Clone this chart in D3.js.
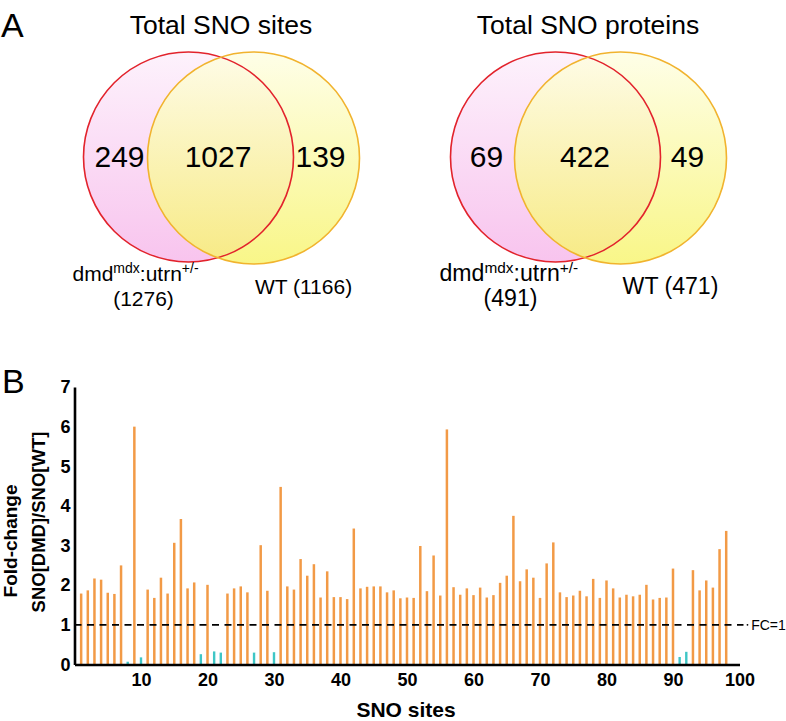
<!DOCTYPE html>
<html>
<head>
<meta charset="utf-8">
<script src="https://cdn.jsdelivr.net/npm/d3@7"></script>
<style>
  html, body { margin: 0; padding: 0; background: #fff; }
  svg { display: block; font-family: "Liberation Sans", Arial, sans-serif; }
</style>
</head>
<body>
<svg id="chart" width="786" height="721"></svg>
<script>
// ---------------- DATA ----------------
const vennSitesTitle = "Total SNO sites";
const vennSitesCounts = [249, 1027, 139];          // only DMD, both, only WT
const vennSitesTotals = ["(1276)", "WT (1166)"];

const vennProtTitle = "Total SNO proteins";
const vennProtCounts = [69, 422, 49];
const vennProtTotals = ["(491)", "WT (471)"];

// Fold change per SNO site (sites 1..98)
const foldChange = [
  1.79, 1.87, 2.17, 2.14, 1.81, 1.78, 2.50, 0.07, 6.00, 0.18,
  1.89, 1.68, 2.19, 1.79, 3.07, 3.67, 1.92, 2.07, 0.26, 2.01,
  0.33, 0.30, 1.79, 1.92, 1.97, 1.82, 0.30, 3.01, 1.86, 0.31,
  4.48, 1.97, 1.89, 2.66, 2.24, 2.53, 1.69, 2.35, 1.70, 1.70,
  1.65, 3.43, 1.92, 1.96, 1.97, 1.97, 1.82, 1.87, 1.67, 1.69,
  1.68, 2.99, 1.85, 2.75, 1.74, 5.93, 1.95, 1.76, 1.92, 1.75,
  1.94, 1.69, 1.75, 2.06, 2.24, 3.75, 2.10, 2.40, 2.19, 1.68,
  2.55, 3.08, 1.82, 1.70, 1.74, 1.86, 1.72, 2.16, 1.68, 2.12,
  1.92, 1.69, 1.76, 1.72, 1.76, 2.01, 1.64, 1.68, 1.69, 2.42,
  0.19, 0.32, 2.38, 1.87, 2.12, 1.94, 2.91, 3.37
];
const xTicks = [10, 20, 30, 40, 50, 60, 70, 80, 90, 100];
const yTicks = [0, 1, 2, 3, 4, 5, 6, 7];
const fcThreshold = 1;

// ---------------- DRAW ----------------
const svg = d3.select("#chart");
const FONT = "'Liberation Sans', Arial, sans-serif";

// gradients
const defs = svg.append("defs");
const gPink = defs.append("linearGradient").attr("id", "gPink").attr("x1", 0).attr("y1", 0).attr("x2", 0).attr("y2", 1);
gPink.append("stop").attr("offset", "0%").attr("stop-color", "#fdf2fc");
gPink.append("stop").attr("offset", "100%").attr("stop-color", "#f8c4ee");
const gYel = defs.append("linearGradient").attr("id", "gYel").attr("x1", 0).attr("y1", 0).attr("x2", 0).attr("y2", 1);
gYel.append("stop").attr("offset", "0%").attr("stop-color", "#fefee2");
gYel.append("stop").attr("offset", "100%").attr("stop-color", "#f7f46a");

// Panel labels
svg.append("text").attr("x", 1).attr("y", 37).attr("font-size", 34).attr("font-family", FONT).text("A");
svg.append("text").attr("x", 2).attr("y", 393).attr("font-size", 34).attr("font-family", FONT).text("B");

function venn(cx, titleText, counts, totals, sc) {
  const g = svg.append("g");
  const r = 105, off = 65;
  const redC = cx - off / 2, yelC = cx + off / 2, cy = 157;
  g.append("text").attr("x", cx).attr("y", 34).attr("text-anchor", "middle")
    .attr("font-size", 26.5).attr("font-family", FONT).text(titleText);
  g.append("circle").attr("cx", redC).attr("cy", cy).attr("r", r).attr("fill", "url(#gPink)");
  g.append("circle").attr("cx", yelC).attr("cy", cy + 1).attr("r", r + 1).attr("fill", "url(#gYel)").attr("fill-opacity", 0.8);
  g.append("circle").attr("cx", redC).attr("cy", cy).attr("r", r).attr("fill", "none").attr("stroke", "#e2232c").attr("stroke-width", 1.6);
  g.append("circle").attr("cx", yelC).attr("cy", cy + 1).attr("r", r + 1).attr("fill", "none").attr("stroke", "#f1b32e").attr("stroke-width", 1.6);
  const pos = [redC - 69, cx - 3, yelC + 67];
  g.selectAll("text.n").data(counts).join("text").attr("class", "n")
    .attr("x", (d, i) => pos[i]).attr("y", 167).attr("text-anchor", "middle")
    .attr("font-size", 30).attr("font-family", FONT).text(d => d);
  // group label
  const lab = g.append("text").attr("x", redC - 116).attr("y", 281).attr("font-size", 21 * sc).attr("font-family", FONT);
  lab.append("tspan").text("dmd");
  lab.append("tspan").attr("font-size", 14 * sc).attr("dy", -8).text("mdx");
  lab.append("tspan").attr("dy", 8).text(":utrn");
  lab.append("tspan").attr("font-size", 14 * sc).attr("dy", -8).text("+/-");
  g.append("text").attr("x", redC - 45).attr("y", 306).attr("text-anchor", "middle")
    .attr("font-size", 21 * sc).attr("font-family", FONT).text(totals[0]);
  g.append("text").attr("x", yelC + 50).attr("y", 294).attr("text-anchor", "middle")
    .attr("font-size", 21 * sc).attr("font-family", FONT).text(totals[1]);
}
venn(221, vennSitesTitle, vennSitesCounts, vennSitesTotals, 1);
venn(588, vennProtTitle, vennProtCounts, vennProtTotals, 1.1);

// ---------------- BAR CHART ----------------
const x = d3.scaleLinear().domain([0, 100]).range([74.5, 739.5]);
const y = d3.scaleLinear().domain([0, 7]).range([664.5, 387]);

const bars = svg.append("g");
bars.selectAll("line.bar").data(foldChange).join("line").attr("class", "bar")
  .attr("x1", (d, i) => x(i + 1)).attr("x2", (d, i) => x(i + 1))
  .attr("y1", y(0)).attr("y2", d => y(d))
  .attr("stroke", d => d < fcThreshold ? "#3ec6c6" : "#f29a46")
  .attr("stroke-width", d => d < fcThreshold ? 2.4 : 2.5);

// threshold dashed line
svg.append("line").attr("x1", x(0)).attr("x2", x(100.6)).attr("y1", y(fcThreshold)).attr("y2", y(fcThreshold))
  .attr("stroke", "#000").attr("stroke-width", 1.8).attr("stroke-dasharray", "7,5.5");
svg.append("circle").attr("cx", x(101.2)).attr("cy", y(fcThreshold)).attr("r", 0.9).attr("fill", "#000");
svg.append("text").attr("x", x(101.6) + 1).attr("y", y(fcThreshold) + 5).attr("font-size", 14).attr("font-family", FONT).text("FC=1");

// axes
const yAxis = svg.append("g").attr("transform", `translate(${x(0)},0)`)
  .call(d3.axisLeft(y).tickValues(yTicks).tickSize(0).tickPadding(4).tickFormat(d3.format("d")));
const xAxis = svg.append("g").attr("transform", `translate(0,${y(0)})`)
  .call(d3.axisBottom(x).tickValues(xTicks).tickSize(0).tickPadding(9).tickFormat(d3.format("d")));
[yAxis, xAxis].forEach(a => {
  a.select(".domain").attr("stroke", "#000").attr("stroke-width", 2.6);
  a.selectAll("text").attr("font-size", 18).attr("font-weight", "bold").attr("font-family", FONT).attr("fill", "#000");
});

// axis titles
svg.append("text").attr("x", 406).attr("y", 717).attr("text-anchor", "middle")
  .attr("font-size", 21).attr("font-weight", "bold").attr("font-family", FONT).text("SNO sites");
svg.append("text").attr("transform", "translate(17,541) rotate(-90)").attr("text-anchor", "middle")
  .attr("font-size", 19).attr("font-weight", "bold").attr("font-family", FONT).text("Fold-change");
svg.append("text").attr("transform", "translate(45,522) rotate(-90)").attr("text-anchor", "middle")
  .attr("font-size", 18.5).attr("font-weight", "bold").attr("font-family", FONT).text("SNO[DMD]/SNO[WT]");
</script>
</body>
</html>
